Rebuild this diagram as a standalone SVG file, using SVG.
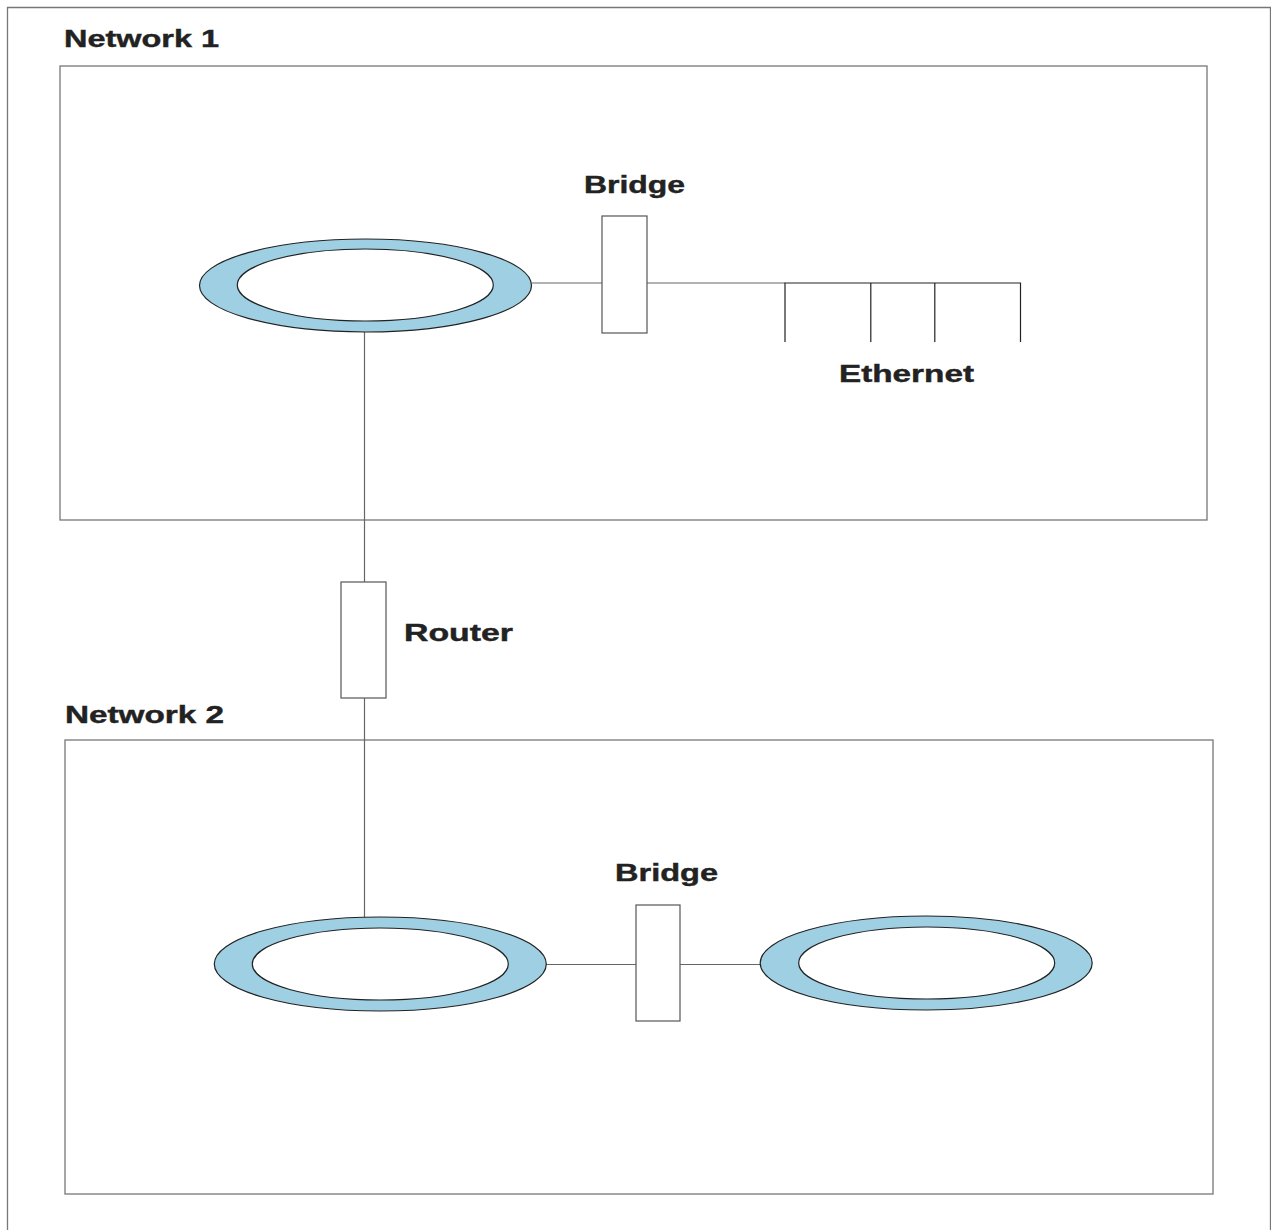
<svg xmlns="http://www.w3.org/2000/svg" width="1271" height="1230" viewBox="0 0 1271 1230">
<style>
.frame{fill:none;stroke:#777;stroke-width:1.3}
.box{fill:#fff;stroke:#555;stroke-width:1.2}
.wire{fill:none;stroke:#666;stroke-width:1.2}
.eth{fill:none;stroke:#222;stroke-width:1.2}
.ring{fill:#9ecfe3;stroke:#222;stroke-width:1.2}
.hole{fill:#fff;stroke:#222;stroke-width:1.2}
.lbl{font-family:"Liberation Sans",Arial,sans-serif;font-weight:bold;font-size:23px;fill:#222;stroke:#222;stroke-width:0.4}
</style>
<rect width="1271" height="1230" fill="#fff"/>
<path class="frame" d="M7.5,1240 V7.5 H1270.5 V1240"/>
<g id="network1">
<rect class="frame" x="60" y="66" width="1147" height="454"/>
<text class="lbl" x="64" y="47" textLength="155" lengthAdjust="spacingAndGlyphs">Network 1</text>
</g>
<g id="network2">
<rect class="frame" x="65" y="740" width="1148" height="454"/>
<text class="lbl" x="65" y="723" textLength="159" lengthAdjust="spacingAndGlyphs">Network 2</text>
</g>
<g id="connectors">
<line class="wire" x1="532" y1="283" x2="602" y2="283"/>
<line class="wire" x1="647" y1="283" x2="785" y2="283"/>
<line class="wire" x1="364.5" y1="332" x2="364.5" y2="582"/>
<line class="wire" x1="364.5" y1="698" x2="364.5" y2="918"/>
<line class="wire" x1="546" y1="964.5" x2="636" y2="964.5"/>
<line class="wire" x1="680" y1="964.5" x2="761" y2="964.5"/>
</g>
<g id="ring1">
<ellipse class="ring" cx="365.5" cy="285.5" rx="166" ry="46.5"/>
<ellipse class="hole" cx="365.3" cy="285" rx="128" ry="36"/>
</g>
<g id="bridge1">
<rect class="box" x="602" y="216" width="45" height="117"/>
<text class="lbl" x="584" y="193" textLength="101" lengthAdjust="spacingAndGlyphs">Bridge</text>
</g>
<g id="ethernet">
<path class="eth" d="M785,283 H1020.5 M785,282.5 V342 M870.8,282.5 V342 M934.8,282.5 V342 M1020.5,282.5 V342"/>
<text class="lbl" x="839" y="382" textLength="135" lengthAdjust="spacingAndGlyphs">Ethernet</text>
</g>
<g id="router">
<rect class="box" x="341" y="582" width="45" height="116"/>
<text class="lbl" x="404" y="641" textLength="109" lengthAdjust="spacingAndGlyphs">Router</text>
</g>
<g id="ring2">
<ellipse class="ring" cx="380.3" cy="964" rx="166" ry="47"/>
<ellipse class="hole" cx="380.3" cy="964" rx="128" ry="36"/>
</g>
<g id="bridge2">
<rect class="box" x="636" y="905" width="44" height="116"/>
<text class="lbl" x="615" y="881" textLength="103" lengthAdjust="spacingAndGlyphs">Bridge</text>
</g>
<g id="ring3">
<ellipse class="ring" cx="926.2" cy="963" rx="166" ry="47"/>
<ellipse class="hole" cx="926.7" cy="963" rx="128" ry="36"/>
</g>
</svg>
